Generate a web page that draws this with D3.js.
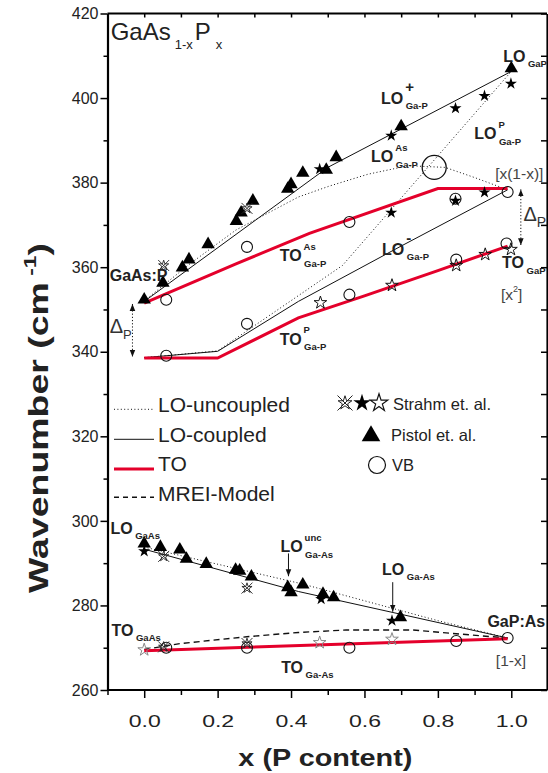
<!DOCTYPE html>
<html><head><meta charset="utf-8">
<script src="https://cdn.jsdelivr.net/npm/d3@7"></script>
<style>body{margin:0;background:#fff} svg{display:block}</style>
</head><body><svg id="c" width="548" height="773"></svg>
<script>
// ---------- axis ticks ----------
const xTicks = [0, 0.2, 0.4, 0.6, 0.8, 1.0];
const xMinorTicks = [-0.1, 0.1, 0.3, 0.5, 0.7, 0.9];
const yTicks = [260, 280, 300, 320, 340, 360, 380, 400, 420];
const yMinorTicks = [270, 290, 310, 330, 350, 370, 390, 410];

// ---------- lines (x, wavenumber) ----------
const loCoupledGaPUpper = [[0,351.9],[0.5,383.6],[1.0,406.3]];
const loCoupledGaPLower = [[0,338.6],[0.2,340.1],[0.42,351.9],[0.7,365.0],[0.99,378.3]];
const loUncoupledBow = [[0,352],[0.12,360.5],[0.25,368.8],[0.42,376.6],[0.505,379.2],[0.61,382],[0.72,384],[0.82,383.6],[0.9,381.2],[0.99,378.3]];
const loUncoupledP = [[0,338.6],[0.2,340.2],[0.54,360.4],[1.0,406.3]];
const toGaPUpper = [[0,351.5],[0.25,360.8],[0.45,368],[0.8,378.6],[0.99,378.6]];
const toGaPLower = [[0,338.5],[0.2,338.5],[0.42,348],[0.6,353.2],[0.8,359.2],[0.99,365]];
const loCoupledGaAs = [[0,293.3],[0.42,283.3],[0.99,272.3]];
const loUncoupledGaAs = [[0,293.8],[0.43,285.1],[0.8,276.4],[0.99,272.3]];
const toGaAs = [[0,269.3],[0.99,272.1]];
const mreiGaAs = [[0,269.6],[0.1,271],[0.28,272.6],[0.42,273.6],[0.55,274.2],[0.73,274.2],[0.85,273.3],[0.99,272.3]];

// ---------- experimental points ----------
const pistol = [[0,352.3],[0.051,356.3],[0.104,359.9],[0.122,361.8],[0.174,365.4],[0.251,370.9],[0.264,372.9],[0.296,375.7],[0.391,378.5],[0.40,379.6],[0.432,382.3],[0.496,383.0],[0.523,386.0],[0.70,393.3],[1.0,407],
  [0,294.6],[0.044,293.8],[0.097,293.2],[0.115,291.0],[0.169,289.8],[0.249,288.4],[0.26,288.2],[0.292,286.8],[0.391,284.3],[0.40,283.1],[0.432,284.9],[0.487,282.7],[0.516,281.9],[0.698,277.2]];
const strahmFilled = [[0.478,383.2],[0.673,391.1],[0.848,397.6],[0.927,400.5],[0.999,403.4],[0.673,372.9],[0.848,375.7],[0.927,377.7],[0,292.8],[0.482,281.5],[0.675,276.4]];
const strahmOpenGaP = [[0.48,351.6],[0.675,355.7],[0.85,360.4],[0.929,363.0],[0.999,364.2]];
const strahmOpenGaAs = [[0,269.5],[0.478,271.2],[0.675,272.0]];
const strahmCross = [[0.053,360.4],[0.28,373.9],[0.053,291.6],[0.28,284.1],[0.053,270.2],[0.28,271.0]];
const vb = [[0.06,352.3],[0.28,364.8],[0.559,370.7],[0.848,376.2],[0.99,377.8],[0.06,339.05],[0.28,346.6],[0.559,353.5],[0.85,361.8],[0.987,365.6],[0.06,270.0],[0.28,270.0],[0.559,270.0],[0.85,271.6],[0.99,272.3]];
const crossingPoint = [[0.79,383.6]];

// ---------- annotations (data coordinates) ----------
const annotations = [
 {main:"LO", sub:"GaP", x:0.978, y:408.6},
 {main:"LO", sup:"+", sub:"Ga-P", x:0.645, y:398.6},
 {main:"LO", sup:"As", sub:"Ga-P", x:0.618, y:384.8},
 {main:"LO", sup:"P", sub:"Ga-P", x:0.899, y:390.3},
 {main:"TO", sup:"As", sub:"Ga-P", x:0.369, y:361.4},
 {main:"TO", sup:"P", sub:"Ga-P", x:0.369, y:341.7},
 {main:"LO", sup:"-", sub:"Ga-P", x:0.648, y:363.0},
 {main:"TO", sub:"GaP", x:0.975, y:359.7},
 {main:"GaAs:P", x:-0.094, y:356.7},
 {main:"LO", sub:"GaAs", x:-0.092, y:297.0},
 {main:"TO", sub:"GaAs", x:-0.089, y:272.8},
 {main:"LO", sup:"unc", sub:"Ga-As", x:0.371, y:292.6},
 {main:"LO", sub:"Ga-As", x:0.648, y:287.3},
 {main:"GaP:As", x:0.935, y:274.8},
 {main:"TO", sub:"Ga-As", x:0.373, y:264.1}
];
const bracketNotes = [
 {text:"[x(1-x)]", x:0.956, y:380.8},
 {text:"[x", sup:"2", after:"]", x:0.972, y:352.3},
 {text:"[1-x]", x:0.958, y:265.7}
];
const deltaArrows = [{x:-0.032, y1:351.3, y2:338.8}, {x:1.026, y1:378.4, y2:365.2}];
const pointerArrows = [{x:0.393, y1:292.3, y2:286.9}, {x:0.677, y1:285.5, y2:278.5}];

// ---------- setup ----------
const FONT = "'Liberation Sans', Arial, Helvetica, sans-serif";
const RED = "#e4002b";
const svg = d3.select("#c");
const x = d3.scaleLinear().domain([-0.1, 1.1]).range([107.5, 548]);
const y = d3.scaleLinear().domain([260, 420]).range([690, 13.5]);
const X0 = 107.5, X1 = 547, Y0 = 690, Y1 = 13.5;

const defs = svg.append("defs");
defs.append("marker").attr("id","ah").attr("viewBox","0 0 10 10").attr("refX",10).attr("refY",5)
  .attr("markerWidth",7).attr("markerHeight",7).attr("markerUnits","userSpaceOnUse").attr("orient","auto-start-reverse")
  .append("path").attr("d","M0,1L10,5L0,9Z").attr("fill","#111");

// ---------- lines ----------
const line = d3.line().x(d => x(d[0])).y(d => y(d[1]));
function drawLine(data, color, width, dash) {
  svg.append("path").datum(data).attr("d", line).attr("fill","none")
    .attr("stroke", color).attr("stroke-width", width).attr("stroke-dasharray", dash || null);
}
drawLine(loUncoupledBow, "#111", 1, "1,2.4");
drawLine(loUncoupledP, "#111", 1, "1,2.4");
drawLine(loUncoupledGaAs, "#111", 1, "1,2.4");
drawLine(loCoupledGaPUpper, "#111", 1);
drawLine(loCoupledGaPLower, "#111", 1);
drawLine(loCoupledGaAs, "#111", 1);
drawLine(mreiGaAs, "#111", 1.4, "6,4");
drawLine(toGaPUpper, RED, 3);
drawLine(toGaPLower, RED, 3);
drawLine(toGaAs, RED, 3);

// arrows
deltaArrows.forEach(a => {
  svg.append("line").attr("x1", x(a.x)).attr("x2", x(a.x)).attr("y1", y(a.y1)).attr("y2", y(a.y2))
    .attr("stroke","#111").attr("stroke-width",1).attr("stroke-dasharray","1.2,2")
    .attr("marker-start","url(#ah)").attr("marker-end","url(#ah)");
});
pointerArrows.forEach(a => {
  svg.append("line").attr("x1", x(a.x)).attr("x2", x(a.x)).attr("y1", y(a.y1)).attr("y2", y(a.y2))
    .attr("stroke","#111").attr("stroke-width",1).attr("marker-end","url(#ah)");
});

// ---------- symbols ----------
function drawSymbols(data, type, size, fill, stroke, sw) {
  svg.append("g").selectAll("path").data(data).join("path")
    .attr("transform", d => `translate(${x(d[0])},${y(d[1])})`)
    .attr("d", d3.symbol(type, size)).attr("fill", fill).attr("stroke", stroke).attr("stroke-width", sw);
}
function crossStarPath(r) {
  return d3.symbol(d3.symbolStar, r*r*1.05)() + `M${-r},${-r}L${r},${r}M${-r},${r}L${r},${-r}`;
}
drawSymbols(vb, d3.symbolCircle, Math.PI*5.5*5.5, "none", "#111", 1.1);
svg.append("g").selectAll("circle").data(crossingPoint).join("circle")
  .attr("cx", d => x(d[0])).attr("cy", d => y(d[1])).attr("r", 12)
  .attr("fill","none").attr("stroke","#111").attr("stroke-width",1.3);
drawSymbols(pistol, d3.symbolTriangle, 78, "#000", "none", 0);
drawSymbols(strahmFilled, d3.symbolStar, 45, "#000", "none", 0);
drawSymbols(strahmOpenGaP, d3.symbolStar, 50, "none", "#111", 1);
drawSymbols(strahmOpenGaAs, d3.symbolStar, 50, "none", "#888", 1);
svg.append("g").selectAll("path").data(strahmCross).join("path")
  .attr("transform", d => `translate(${x(d[0])},${y(d[1])})`)
  .attr("d", crossStarPath(5.5)).attr("fill","none").attr("stroke","#222").attr("stroke-width",0.9);

// ---------- axes ----------
function styleAxis(g, sw) {
  g.select(".domain").attr("stroke","#000").attr("stroke-width", sw);
  g.selectAll(".tick line").attr("stroke","#000").attr("stroke-width",1.5);
}
const gl = svg.append("g").attr("transform",`translate(${X0},0)`)
  .call(d3.axisLeft(y).tickValues(yTicks).tickSize(7).tickSizeOuter(0).tickPadding(2).tickFormat(d3.format("d")));
styleAxis(gl, 2.2);
gl.selectAll("text").attr("font-family", FONT).attr("font-size", 16).attr("fill","#222");
const glm = svg.append("g").attr("transform",`translate(${X0},0)`)
  .call(d3.axisLeft(y).tickValues(yMinorTicks).tickSize(4).tickFormat(""));
glm.select(".domain").remove(); styleAxis(glm, 0);

const gb = svg.append("g").attr("transform",`translate(0,${Y0})`)
  .call(d3.axisBottom(x).tickValues(xTicks).tickSize(8).tickSizeOuter(0).tickPadding(17).tickFormat(d3.format(".1f")));
gb.select(".domain").attr("d", `M${X0},0H${X1}`);
styleAxis(gb, 2.2);
gb.selectAll("text").attr("font-family", FONT).attr("font-size", 16.5).attr("fill","#222")
  .attr("textLength", 32).attr("lengthAdjust","spacingAndGlyphs");
const gbm = svg.append("g").attr("transform",`translate(0,${Y0})`)
  .call(d3.axisBottom(x).tickValues(xMinorTicks).tickSize(5).tickFormat(""));
gbm.select(".domain").remove(); styleAxis(gbm, 0);

const gr = svg.append("g").attr("transform",`translate(${X1},0)`)
  .call(d3.axisRight(y).tickValues(yTicks.concat(yMinorTicks)).tickSize(-6).tickSizeOuter(0).tickFormat(""));
styleAxis(gr, 2.2);
const gt = svg.append("g").attr("transform",`translate(0,${Y1})`)
  .call(d3.axisTop(x).tickValues(xTicks.concat(xMinorTicks.slice(1))).tickSize(-4).tickSizeOuter(0).tickFormat(""));
gt.select(".domain").attr("d", `M${X0},0H${X1}`);
styleAxis(gt, 2.2);

// axis titles
svg.append("text").attr("x", x(0.4935)).attr("y", 766).attr("text-anchor","middle")
  .attr("font-family", FONT).attr("font-weight","bold").attr("font-size", 23).attr("fill","#222")
  .attr("textLength", 174).attr("lengthAdjust","spacingAndGlyphs").text("x (P content)");
const yt = svg.append("text").attr("transform","translate(48,418) rotate(-90)").attr("text-anchor","middle")
  .attr("font-family", FONT).attr("font-weight","bold").attr("font-size", 28).attr("fill","#222");
yt.append("tspan").text("Wavenumber (cm");
yt.append("tspan").attr("font-size",17).attr("dy",-12).text(" -1");
yt.append("tspan").attr("dy",12).text(")");
(function(){ // stretch the title along its length to match the reference
  const len = yt.node().getComputedTextLength();
  const target = 350;
  yt.attr("transform", `translate(48,418) rotate(-90) scale(${target/len},1)`);
})();

// ---------- annotations ----------
function richLabel(a) {
  const px = x(a.x), py = y(a.y);
  const t = svg.append("text").attr("x",px).attr("y",py).attr("font-family",FONT).attr("font-weight","bold")
    .attr("font-size",16).attr("fill","#222").text(a.main);
  const w = t.node().getComputedTextLength();
  if (a.sup) svg.append("text").attr("x",px+w+2).attr("y",py-11.5).attr("font-family",FONT).attr("font-weight","bold")
    .attr("font-size", a.sup === "+" || a.sup === "-" ? 15 : 9.5).attr("fill","#222").text(a.sup);
  if (a.sub) svg.append("text").attr("x",px+w+2.5).attr("y",py+5.5).attr("font-family",FONT).attr("font-weight","bold")
    .attr("font-size",9.5).attr("fill","#222").text(a.sub);
}
annotations.forEach(richLabel);

bracketNotes.forEach(b => {
  const t = svg.append("text").attr("x",x(b.x)).attr("y",y(b.y)).attr("font-family",FONT)
    .attr("font-size",15.5).attr("fill","#444");
  t.append("tspan").text(b.text);
  if (b.sup) { t.append("tspan").attr("font-size",9).attr("dy",-8).text(b.sup); t.append("tspan").attr("dy",8).text(b.after); }
});

// Delta_P labels
[{x:-0.094, y:344.5, s:13}, {x:1.033, y:370.9, s:14}].forEach(d => {
  const t = svg.append("text").attr("x",x(d.x)).attr("y",y(d.y)).attr("font-family",FONT).attr("font-size",20).attr("fill","#333");
  t.append("tspan").text("\u0394");
  t.append("tspan").attr("font-size",d.s).attr("dy",6).text("P");
});

// title GaAs1-xPx
(function(){
  const bx = 110.7, by = 40;
  const t1 = svg.append("text").attr("x",bx).attr("y",by).attr("font-family",FONT).attr("font-size",24).attr("fill","#222").text("GaAs");
  let cx = bx + t1.node().getComputedTextLength() + 4;
  const t2 = svg.append("text").attr("x",cx).attr("y",by+9).attr("font-family",FONT).attr("font-size",13).attr("fill","#222").text("1-x");
  cx += t2.node().getComputedTextLength() + 2;
  const t3 = svg.append("text").attr("x",cx).attr("y",by).attr("font-family",FONT).attr("font-size",24).attr("fill","#222").text("P");
  cx += t3.node().getComputedTextLength() + 5;
  svg.append("text").attr("x",cx).attr("y",by+9).attr("font-family",FONT).attr("font-size",13).attr("fill","#222").text("x");
})();

// ---------- legends ----------
const legendRows = [
  {label:"LO-uncoupled", color:"#111", w:1, dash:"1,2.4", ly:409.3, ty:411.7},
  {label:"LO-coupled", color:"#111", w:1, dash:null, ly:439.3, ty:441.7},
  {label:"TO", color:RED, w:3, dash:null, ly:469, ty:470.7},
  {label:"MREI-Model", color:"#111", w:1.4, dash:"5,4", ly:497.3, ty:500.7}
];
legendRows.forEach(r => {
  svg.append("line").attr("x1",114).attr("x2",154).attr("y1",r.ly).attr("y2",r.ly)
    .attr("stroke",r.color).attr("stroke-width",r.w).attr("stroke-dasharray",r.dash);
  svg.append("text").attr("x",158).attr("y",r.ty).attr("font-family",FONT).attr("font-size",21).attr("fill","#222").text(r.label);
});
const lg = svg.append("g");
lg.append("path").attr("transform","translate(345,403)").attr("d",crossStarPath(7.5)).attr("fill","none").attr("stroke","#222").attr("stroke-width",1);
lg.append("path").attr("transform","translate(362,403)").attr("d",d3.symbol(d3.symbolStar,95)).attr("fill","#000");
lg.append("path").attr("transform","translate(379,403)").attr("d",d3.symbol(d3.symbolStar,95)).attr("fill","none").attr("stroke","#111").attr("stroke-width",1.2);
lg.append("text").attr("x",393).attr("y",410).attr("font-family",FONT).attr("font-size",16.5).attr("fill","#222").text("Strahm et. al.");
lg.append("path").attr("transform","translate(371,436)").attr("d",d3.symbol(d3.symbolTriangle,150)).attr("fill","#000");
lg.append("text").attr("x",391).attr("y",441).attr("font-family",FONT).attr("font-size",16.5).attr("fill","#222").text("Pistol et. al.");
lg.append("circle").attr("cx",377).attr("cy",465).attr("r",8.5).attr("fill","none").attr("stroke","#111").attr("stroke-width",1.2);
lg.append("text").attr("x",392).attr("y",471).attr("font-family",FONT).attr("font-size",16.5).attr("fill","#222").text("VB");
</script></body></html>
